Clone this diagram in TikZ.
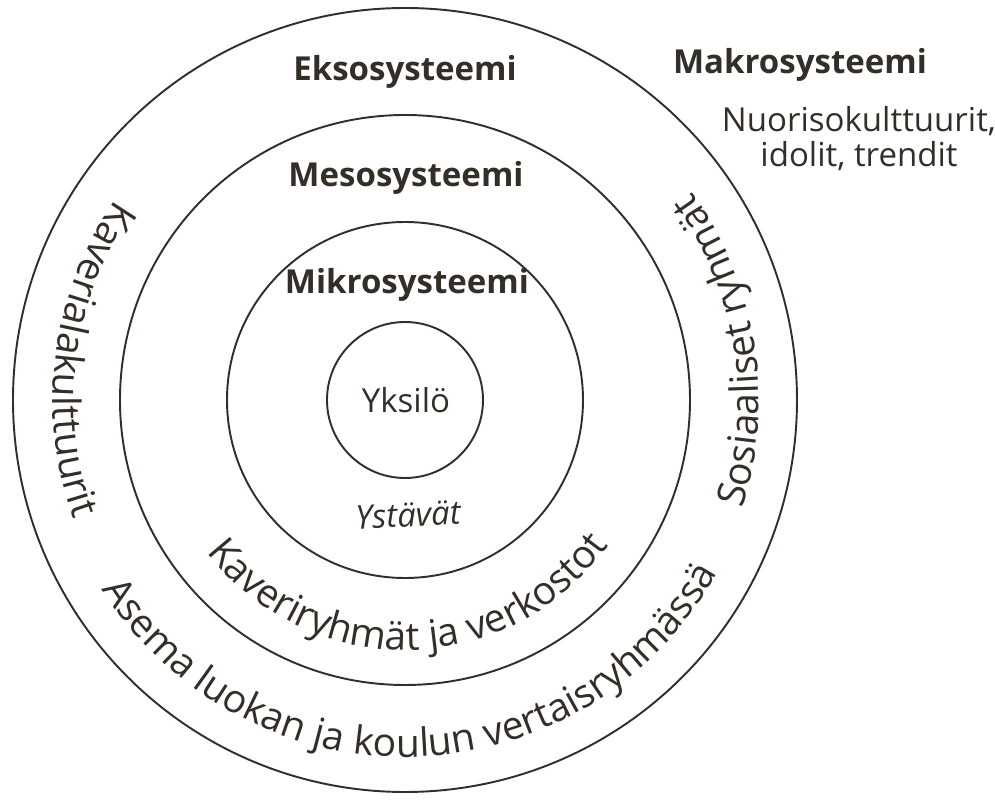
\documentclass[tikz,border=0pt]{standalone}
\usepackage{fontspec}
\setmainfont{Open Sans}
\usetikzlibrary{decorations.text}

\definecolor{ink}{RGB}{52,46,40}
\newcommand{\flatfont}{\fontsize{18.8}{20}\selectfont}
\newcommand{\arcfont}{\fontsize{22.2}{26}\selectfont}

\begin{document}
\begin{tikzpicture}[
  x=0.02cm, y=0.02cm,
  ring/.style   = {draw=ink, line width=1.1pt},
  syslbl/.style = {font=\flatfont\bfseries, text=ink, inner sep=0pt},
  txtlbl/.style = {font=\flatfont, align=center, text=ink, inner sep=0pt},
  arclbl/.style = {decorate, decoration={text along path, text align=center,
                   text color=ink}},
]
\useasboundingbox (-405,-401) rectangle (590,400);

\coordinate (c) at (0,0);

% the four rings
\draw[ring] (c) circle[radius=392];
\draw[ring] (c) circle[radius=285];
\draw[ring] (c) circle[radius=178];
\draw[ring] (c) circle[radius=78];

% level names
\node[syslbl] (ekso)  at (0,328)   {Eksosysteemi};
\node[syslbl] (meso)  at (1,222)   {Mesosysteemi};
\node[syslbl] (mikro) at (2,115)   {Mikrosysteemi};
\node[syslbl] (makro) at (395,335) {Makrosysteemi};
\node[txtlbl] (nuoriso) at (454,261) {Nuorisokulttuurit,\\idolit, trendit};

% centre
\node[txtlbl] (yksilo)  at (1,0)            {Yksilö};
\node[txtlbl, rotate=3, font=\flatfont\itshape] (ystavat) at (3,-115) {Ystävät};

% texts along the rings
\path[arclbl, decoration={text={|\arcfont|Kaverialakulttuurit}}]
  (130:352) arc[start angle=130, end angle=215, radius=352];
\path[arclbl, decoration={text={|\arcfont|Sosiaaliset ryhmät}}]
  (-35:354) arc[start angle=-35, end angle=53, radius=354];
\path[arclbl, decoration={text={|\arcfont|Kaveriryhmät ja verkostot}}]
  (210:250) arc[start angle=210, end angle=332, radius=250];
\path[arclbl, decoration={text={|\arcfont|Asema luokan ja koulun vertaisryhmässä}}]
  (200:357) arc[start angle=200, end angle=343, radius=357];

\end{tikzpicture}
\end{document}
